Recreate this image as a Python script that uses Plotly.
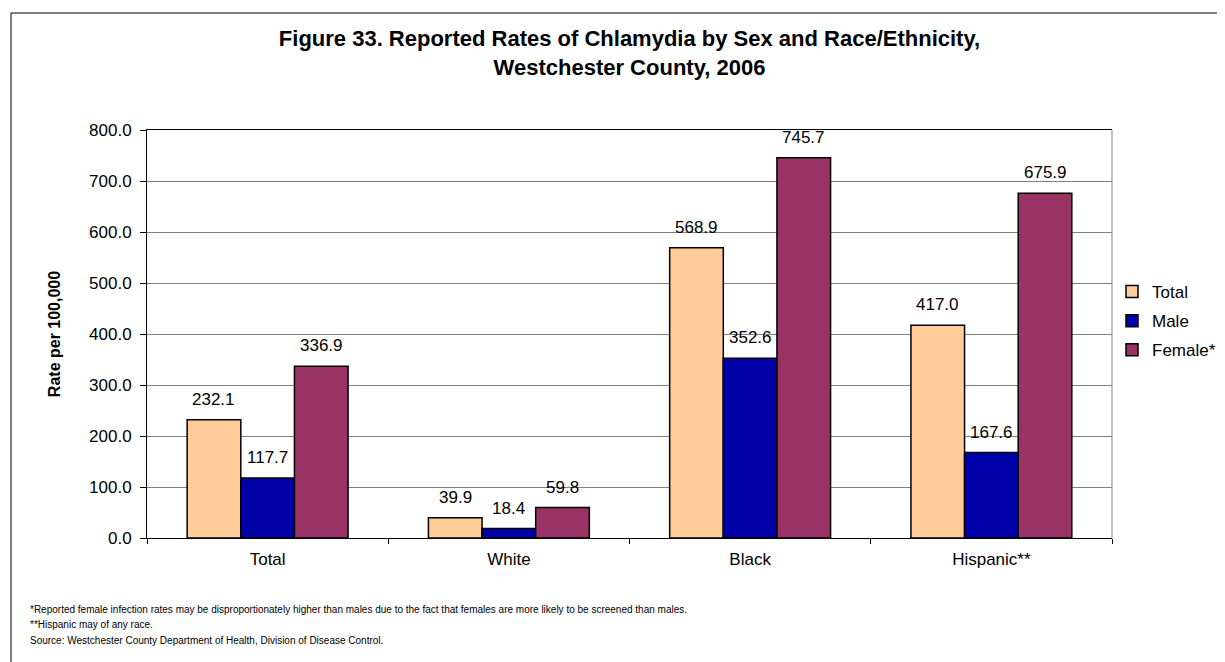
import plotly.graph_objects as go

categories = ["Total", "White", "Black", "Hispanic**"]
series_names = ["Total", "Male", "Female*"]
total_vals = [232.1, 39.9, 568.9, 417.0]
male_vals = [117.7, 18.4, 352.6, 167.6]
female_vals = [336.9, 59.8, 745.7, 675.9]
colors = ["#FFCC99", "#0000A8", "#993366"]
y_ticks = [0, 100, 200, 300, 400, 500, 600, 700, 800]

title_text = "Figure 33. Reported Rates of Chlamydia by Sex and Race/Ethnicity,<br>Westchester County, 2006"
y_title = "Rate per 100,000"
footnotes = [
    "*Reported female infection rates may be disproportionately higher than males due to the fact that females are more likely to be screened than males.",
    "**Hispanic may of any race.",
    "Source: Westchester County Department of Health, Division of Disease Control.",
]

W, H = 1225, 662
L, R, T, B = 139, 1104, 122, 530
FONT = "Arial, Liberation Sans, sans-serif"
LBL = 17

fig = go.Figure()
all_vals = [total_vals, male_vals, female_vals]
for name, vals, col in zip(series_names, all_vals, colors):
    fig.add_trace(go.Bar(
        x=categories, y=vals, name=name, legendgroup=name,
        marker=dict(color=col, line=dict(color="black", width=1.5)),
    ))

bargap = 0.333
cat_w = (R - L) / len(categories)
bar_w = cat_w * (1 - bargap) / 3
offsets = [-bar_w, 0, bar_w]
annotations = []
for vals, off in zip(all_vals, offsets):
    for c, v in zip(categories, vals):
        annotations.append(dict(
            x=c, y=v, xref="x", yref="y", text=f"{v:.1f}", showarrow=False,
            xshift=off, yshift=9, yanchor="bottom",
            font=dict(family=FONT, size=LBL, color="black"),
        ))

def px_x(p):
    return (p - L) / (R - L)

def px_y(p):
    return (B - p) / (B - T)

for i, txt in enumerate(footnotes):
    annotations.append(dict(
        x=px_x(20), y=px_y(601 + i * 15.5), xref="paper", yref="paper",
        text=txt, showarrow=False, xanchor="left", yanchor="middle",
        font=dict(family=FONT, size=10, color="black"),
    ))

shapes = [
    dict(type="rect", xref="paper", yref="paper",
         x0=px_x(3), x1=px_x(1219), y0=px_y(656), y1=px_y(5),
         line=dict(color="black", width=1), fillcolor="rgba(0,0,0,0)", layer="below"),
    dict(type="line", xref="paper", yref="paper",
         x0=1, x1=1, y0=0, y1=1, line=dict(color="#808080", width=1)),
]

fig.update_layout(
    width=W, height=H,
    margin=dict(l=L, r=W - R, t=T, b=H - B, autoexpand=False),
    paper_bgcolor="white", plot_bgcolor="white",
    barmode="group", bargap=bargap, bargroupgap=0,
    title=dict(text=title_text, x=0.5, xref="paper", xanchor="center",
               y=1 - 38 / H, yref="container", yanchor="top",
               font=dict(family=FONT, size=22, color="black", weight="bold")),
    font=dict(family=FONT, size=LBL, color="black"),
    legend=dict(x=1.0, xanchor="left", y=px_y(313), yanchor="middle",
                font=dict(family=FONT, size=LBL, color="black"),
                bgcolor="rgba(0,0,0,0)", tracegroupgap=4),
    xaxis=dict(showline=True, linecolor="black", linewidth=1, mirror=True,
               ticks="outside", tickson="boundaries", ticklen=5, tickcolor="black",
               ticklabelstandoff=6,
               tickfont=dict(family=FONT, size=LBL), showgrid=False),
    yaxis=dict(range=[0, 800], tickvals=y_ticks, tickformat=".1f",
               showline=True, linecolor="black", linewidth=1,
               ticks="outside", ticklen=6, tickcolor="black",
               ticklabelstandoff=5,
               showgrid=True, gridcolor="#808080", gridwidth=1,
               tickfont=dict(family=FONT, size=LBL),
               title=dict(text=f"<b>{y_title}</b>", font=dict(family=FONT, size=16), standoff=24)),
    annotations=annotations, shapes=shapes, showlegend=True,
)

fig.write_html("out.html")
